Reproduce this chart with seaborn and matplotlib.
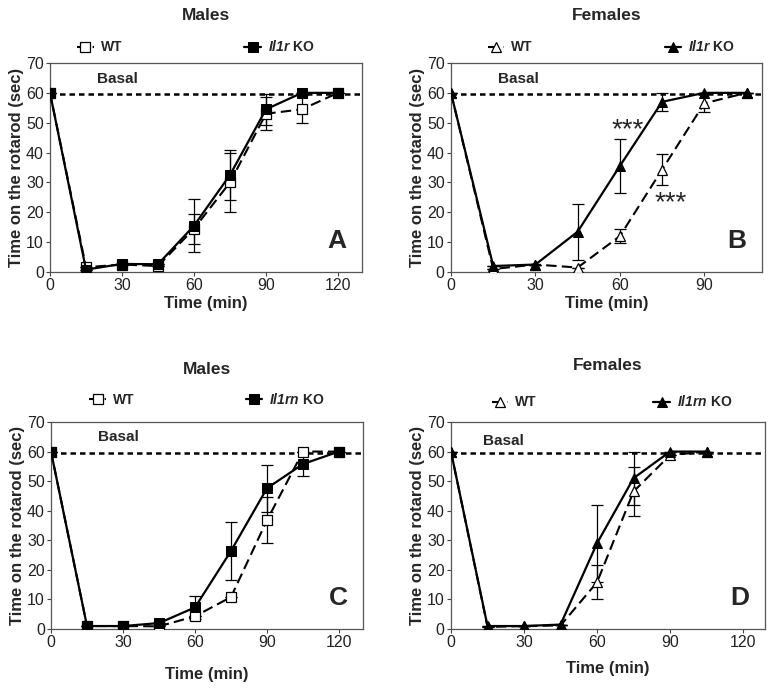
import numpy as np
import pandas as pd
import matplotlib
matplotlib.use('Agg')
import matplotlib.pyplot as plt
import seaborn as sns

"""
    Rotarod recovery curves, Il1r / Il1rn KO vs WT, males and females
"""

sns.set_style('ticks')
plt.rcParams['font.family'] = ['Liberation Sans', 'DejaVu Sans']
plt.rcParams['mathtext.fontset'] = 'custom'
plt.rcParams['mathtext.it'] = 'Liberation Sans:italic:bold'
plt.rcParams['mathtext.rm'] = 'Liberation Sans:italic:bold'
plt.rcParams['mathtext.default'] = 'it'

# time points
t_A = [0, 15, 30, 45, 60, 75, 90, 105, 120]
t_B = [0, 15, 30, 45, 60, 75, 90, 105]
t_C = [0, 15, 30, 45, 60, 75, 90, 105, 120]
t_D = [0, 15, 30, 45, 60, 75, 90, 105]

# A: males Il1r
wt_A = [60, 1.6, 2.5, 2.0, 14.5, 30.0, 53.0, 54.5, 60]
wt_A_err = [0, 0, 0, 0, 5.0, 10.0, 5.5, 4.7, 0]
ko_A = [60, 0.8, 2.7, 2.6, 15.5, 32.5, 54.5, 60, 60]
ko_A_err = [0, 0, 0, 0, 8.8, 8.5, 5.2, 0, 0]

# B: females Il1r
wt_B = [60, 1.0, 2.5, 1.5, 12.0, 34.3, 56.5, 60]
wt_B_err = [0, 0, 0, 0, 2.3, 5.2, 3.0, 0]
ko_B = [60, 2.0, 2.5, 13.5, 35.5, 57.0, 60, 60]
ko_B_err = [0, 0, 0, 9.4, 9.0, 3.0, 0, 0]

# C: males Il1rn
wt_C = [60, 1.0, 1.0, 0.9, 4.3, 10.8, 36.8, 60, 60]
wt_C_err = [0, 0, 0, 0, 0, 0, 7.8, 0, 0]
ko_C = [60, 1.0, 1.0, 2.0, 7.3, 26.4, 47.6, 55.8, 60]
ko_C_err = [0, 0, 0, 0, 4.0, 9.8, 8.0, 4.0, 0]

# D: females Il1rn
wt_D = [60, 0.7, 1.0, 1.2, 15.8, 46.5, 58.8, 60]
wt_D_err = [0, 0, 0, 0, 5.8, 8.3, 0, 0]
ko_D = [60, 1.0, 1.0, 1.5, 29.0, 51.0, 60, 60]
ko_D_err = [0, 0, 0, 0, 13.0, 9.0, 0, 0]

panels = [
    dict(t=t_A, wt=wt_A, wte=wt_A_err, ko=ko_A, koe=ko_A_err, marker='s',
         gene='Il1r', title='Males', letter='A', xmax=130, xt=[0, 30, 60, 90, 120],
         rect=[50, 63, 362, 272], basal=(19.5, 64.5), title_y=15,
         leg=(0.468, 1.077, 8.8), xpad=2),
    dict(t=t_B, wt=wt_B, wte=wt_B_err, ko=ko_B, koe=ko_B_err, marker='^',
         gene='Il1r', title='Females', letter='B', xmax=110.5, xt=[0, 30, 60, 90],
         rect=[451, 63, 762, 272], basal=(16.8, 64.5), title_y=15,
         leg=(0.516, 1.077, 9.5), xpad=2),
    dict(t=t_C, wt=wt_C, wte=wt_C_err, ko=ko_C, koe=ko_C_err, marker='s',
         gene='Il1rn', title='Males', letter='C', xmax=130, xt=[0, 30, 60, 90, 120],
         rect=[51, 422, 363, 629], basal=(19.4, 65), title_y=370,
         leg=(0.5, 1.111, 8.0), xpad=12),
    dict(t=t_D, wt=wt_D, wte=wt_D_err, ko=ko_D, koe=ko_D_err, marker='^',
         gene='Il1rn', title='Females', letter='D', xmax=129, xt=[0, 30, 60, 90, 120],
         rect=[451, 422, 765, 629], basal=(13, 63.7), title_y=365,
         leg=(0.513, 1.097, 8.4), xpad=8),
]

W, H = 773, 692
fig = plt.figure(figsize=(W / 100, H / 100), dpi=100)

for p in panels:
    l, top, r, b = p['rect']
    ax = fig.add_axes([l / W, (H - b) / H, (r - l) / W, (b - top) / H])

    ax.axhline(59.5, color='black', lw=1.8, ls=(0, (2.2, 1.6)), zorder=1)

    ax.errorbar(p['t'], p['wt'], yerr=p['wte'], fmt='none', ecolor='black',
                elinewidth=0.9, capsize=4, capthick=0.9, zorder=2)
    ax.errorbar(p['t'], p['ko'], yerr=p['koe'], fmt='none', ecolor='black',
                elinewidth=0.9, capsize=4, capthick=0.9, zorder=2)

    sns.lineplot(x=p['t'], y=p['wt'], ax=ax, color='black', lw=1.5,
                 linestyle=(0, (5, 2.5)), marker=p['marker'], markersize=7,
                 markerfacecolor='white', markeredgecolor='black', markeredgewidth=0.9,
                 label='WT', zorder=3)
    sns.lineplot(x=p['t'], y=p['ko'], ax=ax, color='black', lw=1.6,
                 marker=p['marker'], markersize=7, markerfacecolor='black',
                 markeredgecolor='black', label='$' + p['gene'] + '$ KO', zorder=4)

    ax.set_xlim(0, p['xmax'])
    ax.set_ylim(0, 70)
    ax.set_xticks(p['xt'])
    ax.set_yticks(range(0, 71, 10))
    ax.tick_params(labelsize=11.5, length=3, width=0.8, color='#444444',
                   labelcolor='#222222', pad=1.5)
    for s in ax.spines.values():
        s.set_color('#555555')
        s.set_linewidth(0.9)

    ax.set_xlabel('Time (min)', fontsize=12, fontweight='bold', labelpad=p['xpad'])
    ax.set_ylabel('Time on the rotarod (sec)', fontsize=12, fontweight='bold', labelpad=1)

    ax.text(p['basal'][0], p['basal'][1], 'Basal', fontsize=11, fontweight='bold',
            va='center', ha='left')
    ax.text(0.92, 0.148, p['letter'], transform=ax.transAxes, fontsize=19,
            fontweight='bold', ha='center', va='center')

    lx, ly, cs = p['leg']
    leg = ax.legend(ncol=2, loc='center', bbox_to_anchor=(lx, ly),
                    frameon=False, handlelength=1.2, handletextpad=0.5,
                    columnspacing=cs, prop={'weight': 'bold', 'size': 10})

    cx = (l + r) / 2 / W
    fig.text(cx, 1 - p['title_y'] / H, p['title'], ha='center', va='center',
             fontsize=12.5, fontweight='bold')

    if p['letter'] == 'B':
        ax.text(62.8, 47.5, '***', fontsize=20, ha='center', va='center')
        ax.text(78, 23, '***', fontsize=20, ha='center', va='center')

fig.savefig('out.png', dpi=100)
